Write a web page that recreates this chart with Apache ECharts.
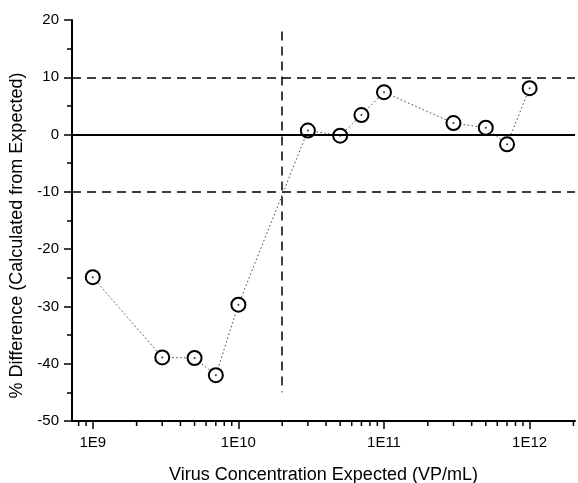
<!DOCTYPE html>
<html>
<head>
<meta charset="utf-8">
<script src="https://cdn.jsdelivr.net/npm/echarts@6/dist/echarts.min.js"></script>
<style>
  html, body { margin: 0; padding: 0; background: #fff; }
  #chart1 { width: 578px; height: 483px; }
</style>
</head>
<body>
<div id="chart1"></div>
<script>
// expected concentration (VP/mL) and % difference
var concExpected = [1e9, 3e9, 5e9, 7e9, 1e10, 3e10, 5e10, 7e10, 1e11, 3e11, 5e11, 7e11, 1e12]
var pctDifference = [-24.9, -38.9, -39.0, -42.0, -29.7, 0.7, -0.2, 3.4, 7.4, 2.0, 1.2, -1.7, 8.1]

// y axis ticks
var yMin = -50
var yMax = 20
var yStep = 10

// x axis range and log minor tick positions
var xMin = 7.2e8
var xMax = 2.05e12
var minorTickValues = [8e8, 9e8,
    2e9, 3e9, 4e9, 5e9, 6e9, 7e9, 8e9, 9e9,
    2e10, 3e10, 4e10, 5e10, 6e10, 7e10, 8e10, 9e10,
    2e11, 3e11, 4e11, 5e11, 6e11, 7e11, 8e11, 9e11,
    2e12]

// reference lines
var limitLines = [10, -10]
var cutoffX = 2e10
var cutoffRange = [18, -45]

var fontName = "Liberation Sans"
var dash = [9, 6]

var chart1 = echarts.init(document.querySelector("#chart1"))

var points = concExpected.map(function (x, i) { return [x, pctDifference[i]] })

var option = {
    animation: false,
    backgroundColor: "#fff",
    grid: {
        left: 72,
        right: 3,
        top: 20,
        bottom: 62,
        outerBoundsMode: "none"
    },
    xAxis: {
        type: "log",
        min: xMin,
        max: xMax,
        name: "Virus Concentration Expected (VP/mL)",
        nameLocation: "middle",
        nameGap: 45,
        nameTextStyle: { fontFamily: fontName, fontSize: 18, color: "#000" },
        axisLine: { onZero: false, lineStyle: { color: "#000", width: 2 } },
        axisTick: { length: 8, lineStyle: { color: "#000", width: 1.5 } },
        axisLabel: {
            fontFamily: fontName,
            fontSize: 15,
            color: "#000",
            margin: 14,
            showMinLabel: false,
            showMaxLabel: false,
            formatter: function (v) { return "1E" + Math.round(Math.log10(v)) }
        },
        splitLine: { show: false }
    },
    yAxis: {
        type: "value",
        min: yMin,
        max: yMax,
        interval: yStep,
        name: "% Difference (Calculated from Expected)",
        nameLocation: "middle",
        nameGap: 44,
        nameTextStyle: { fontFamily: fontName, fontSize: 18, color: "#000", padding: [0, 30, 0, 0] },
        axisLine: { show: true, onZero: false, lineStyle: { color: "#000", width: 2 } },
        axisTick: { show: true, length: 8, lineStyle: { color: "#000", width: 1.5 } },
        minorTick: { show: true, splitNumber: 2, length: 5, lineStyle: { color: "#000", width: 1.5 } },
        axisLabel: { fontFamily: fontName, fontSize: 15, color: "#000", margin: 13 },
        splitLine: { show: false }
    },
    series: [
        {
            type: "line",
            data: points,
            symbol: "emptyCircle",
            symbolSize: 14,
            itemStyle: { color: "#000", borderColor: "#000", borderWidth: 1 },
            lineStyle: { color: "#444", width: 1, type: [1.5, 2.5] },
            z: 3,
            markLine: {
                silent: true,
                symbol: "none",
                label: { show: false },
                animation: false,
                data: [
                    { yAxis: 0, lineStyle: { type: "solid", color: "#000", width: 2 } },
                    { yAxis: limitLines[0], lineStyle: { type: dash, color: "#000", width: 1.5 } },
                    { yAxis: limitLines[1], lineStyle: { type: dash, color: "#000", width: 1.5 } },
                    [
                        { coord: [cutoffX, cutoffRange[0]], lineStyle: { type: dash, color: "#000", width: 1.5 } },
                        { coord: [cutoffX, cutoffRange[1]] }
                    ]
                ]
            }
        },
        {
            // centre dot of each marker
            type: "scatter",
            data: points,
            symbol: "circle",
            symbolSize: 2,
            itemStyle: { color: "#000" },
            z: 4
        },
        {
            // log minor ticks on the x axis
            type: "custom",
            clip: false,
            silent: true,
            data: minorTickValues.map(function (v) { return [v, yMin] }),
            renderItem: function (params, api) {
                var p = api.coord([api.value(0), api.value(1)])
                return {
                    type: "line",
                    shape: { x1: p[0], y1: p[1], x2: p[0], y2: p[1] + 5 },
                    style: { stroke: "#000", lineWidth: 1.5 }
                }
            }
        }
    ]
}

chart1.setOption(option)
</script>
</body>
</html>
